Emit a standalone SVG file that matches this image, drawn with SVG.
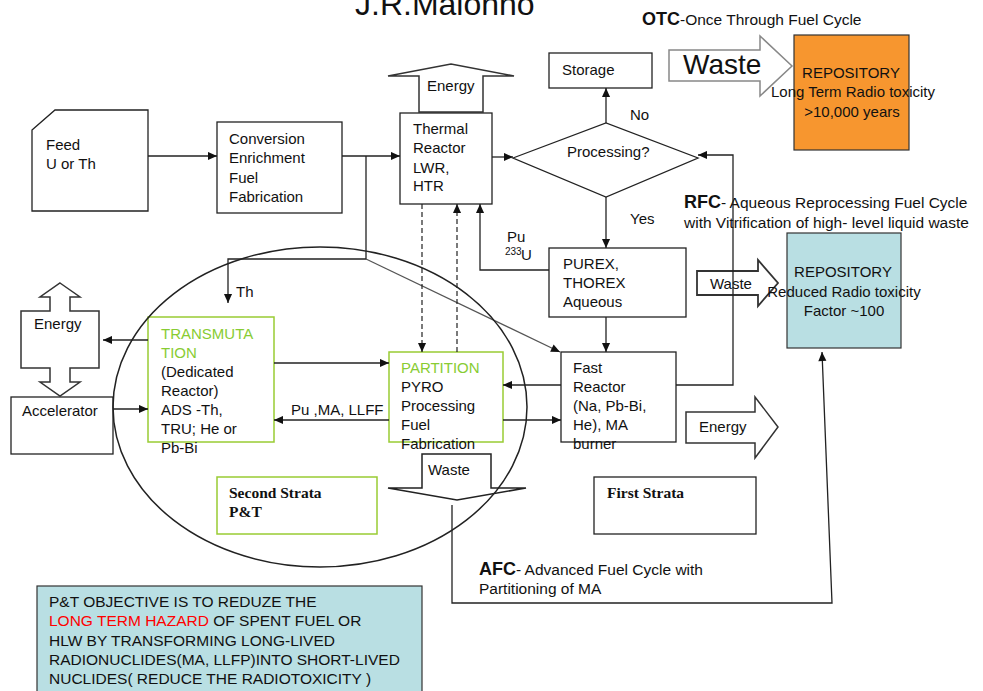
<svg xmlns="http://www.w3.org/2000/svg" width="983" height="691" viewBox="0 0 983 691">
<style>
text{font-family:"Liberation Sans",Arial,sans-serif;font-size:15px;fill:#111}
.box{fill:#fff;stroke:#222;stroke-width:1.3}
.gbox{fill:#fff;stroke:#9c3;stroke-width:1.5}
.blk{fill:#fff;stroke:#333;stroke-width:1.5}
.ln{fill:none;stroke:#222;stroke-width:1.3}
.dash{fill:none;stroke:#222;stroke-width:1.2;stroke-dasharray:5,3}
.g{fill:#8c3}
.b{font-weight:bold;font-size:18px}
.serif{font-family:"Liberation Serif","Times New Roman",serif;font-weight:bold;font-size:15.5px}
.mid{text-anchor:middle}
</style>
<defs>
<marker id="ah" viewBox="0 0 10 10" refX="10" refY="5" markerWidth="10" markerHeight="9" markerUnits="userSpaceOnUse" orient="auto">
<path d="M0,0.5 L10,5 L0,9.5z" fill="#111"/>
</marker>
</defs>
<rect width="983" height="691" fill="#fff"/>

<text x="355" y="15" style="font-size:32px">J.R.Malonno</text>

<g id="feed"><path class="box" d="M32,130 L55,110 H148 V211 H32 Z"/>
<text x="46" y="150">Feed</text><text x="46" y="169">U or Th</text></g>

<g id="conversion"><rect class="box" x="217" y="122" width="125" height="91"/>
<text x="229" y="144">Conversion</text><text x="229" y="163">Enrichment</text><text x="229" y="183">Fuel</text><text x="229" y="202">Fabrication</text></g>

<g id="energy-top"><path class="blk" d="M419,112 V76 H388 L451,64 L514,76 H483 V112 Z"/>
<text x="427" y="91">Energy</text></g>

<g id="thermal"><rect class="box" x="400" y="113" width="92" height="91"/>
<text x="413" y="134">Thermal</text><text x="413" y="153">Reactor</text><text x="413" y="173">LWR,</text><text x="413" y="191">HTR</text></g>

<g id="storage"><rect class="box" x="549" y="53" width="103" height="35"/>
<text x="562" y="75">Storage</text></g>

<g id="processing"><path class="box" d="M513,158 L606,123 L698,158 L606,197 Z"/>
<text x="567" y="157">Processing?</text></g>

<g id="otc-label"><text x="642" y="25"><tspan class="b">OTC</tspan><tspan style="font-size:15.5px">-Once Through Fuel Cycle</tspan></text></g>

<g id="waste-otc"><path d="M669,50 H760 V36 L792,66 L760,96 V81 H669 Z" fill="#fff" stroke="#888" stroke-width="1.5"/>
<text x="683" y="74" style="font-size:28px">Waste</text></g>

<g id="repository-otc"><rect x="794" y="35" width="115" height="115" fill="#f7962f" stroke="#333" stroke-width="1.2"/>
<text class="mid" x="851" y="78">REPOSITORY</text><text class="mid" x="853" y="97">Long Term Radio toxicity</text><text class="mid" x="852" y="117">&gt;10,000 years</text></g>

<g id="rfc-label"><text x="684" y="208"><tspan class="b">RFC</tspan><tspan style="font-size:15.5px">- Aqueous Reprocessing Fuel  Cycle</tspan></text>
<text x="684" y="228" style="font-size:15.5px">with Vitrification of high- level liquid waste</text></g>

<g id="purex"><rect class="box" x="549" y="248" width="137" height="69"/>
<text x="563" y="269">PUREX,</text><text x="563" y="288">THOREX</text><text x="563" y="307">Aqueous</text></g>

<g id="waste-rfc"><path d="M697,271 H758 V260 L778,283 L758,306 V295 H697 Z" fill="#fff" stroke="#333" stroke-width="1.8"/>
<text x="710" y="289">Waste</text></g>

<g id="repository-rfc"><rect x="787" y="233" width="114" height="115" fill="#b9dfe3" stroke="#333" stroke-width="1.2"/>
<text class="mid" x="843" y="277">REPOSITORY</text><text class="mid" x="844" y="297">Reduced Radio toxicity</text><text class="mid" x="844" y="316">Factor ~100</text></g>

<g id="fast"><rect class="box" x="561" y="352" width="115" height="90"/>
<text x="573" y="373">Fast</text><text x="573" y="392">Reactor</text><text x="573" y="411">(Na, Pb-Bi,</text><text x="573" y="430">He), MA</text><text x="573" y="449">burner</text></g>

<g id="energy-fast"><path class="blk" d="M686,412 H755 V397 L778,427 L755,458 V443 H686 Z"/>
<text x="699" y="432">Energy</text></g>

<g id="energy-left"><path class="blk" d="M60,283 L80,297 H70 V311 H99 V368 H70 V382 H80 L60,396 L40,382 H50 V368 H21 V311 H50 V297 H40 Z"/>
<text x="34" y="329">Energy</text></g>

<g id="accelerator"><rect class="box" x="11" y="397" width="102" height="57"/>
<text x="22" y="416">Accelerator</text></g>

<g id="transmutation"><rect class="gbox" x="148" y="317" width="126" height="125"/>
<text x="161" y="339" class="g">TRANSMUTA</text><text x="161" y="358" class="g">TION</text><text x="161" y="377">(Dedicated</text><text x="161" y="396">Reactor)</text><text x="161" y="415">ADS -Th,</text><text x="161" y="434">TRU; He or</text><text x="161" y="453">Pb-Bi</text></g>

<g id="partition"><rect class="gbox" x="389" y="352" width="114" height="90"/>
<text x="401" y="373" class="g">PARTITION</text><text x="401" y="392">PYRO</text><text x="401" y="411">Processing</text><text x="401" y="430">Fuel</text><text x="401" y="449">Fabrication</text></g>

<g id="waste-partition"><path d="M422,454 H491 V488 H526 L457,500 L388,488 H422 Z" fill="#fff" stroke="#222" stroke-width="1.5"/>
<text x="428" y="475">Waste</text></g>

<g id="second-strata"><rect class="gbox" x="217" y="477" width="160" height="57"/>
<text class="serif" x="229" y="498">Second Strata</text><text class="serif" x="229" y="517">P&amp;T</text></g>

<g id="first-strata"><rect class="box" x="594" y="477" width="162" height="57"/>
<text class="serif" x="607" y="498">First Strata</text></g>

<g id="afc-label"><text x="479" y="575"><tspan class="b">AFC</tspan><tspan style="font-size:15.5px">- Advanced Fuel Cycle with</tspan></text>
<text x="479" y="594" style="font-size:15.5px">Partitioning of MA</text></g>

<g id="objective"><rect x="37" y="586" width="385" height="110" fill="#b9dfe3" stroke="#333" stroke-width="1.2"/>
<text x="49" y="607" style="font-size:15.5px">P&amp;T OBJECTIVE IS TO REDUZE THE</text>
<text x="49" y="626" style="font-size:15.5px"><tspan fill="#f00">LONG TERM HAZARD</tspan> OF SPENT FUEL OR</text>
<text x="49" y="646" style="font-size:15.5px">HLW BY TRANSFORMING LONG-LIVED</text>
<text x="49" y="665" style="font-size:15.5px">RADIONUCLIDES(MA, LLFP)INTO SHORT-LIVED</text>
<text x="49" y="684" style="font-size:15.5px">NUCLIDES( REDUCE THE RADIOTOXICITY )</text></g>

<g id="connectors">
<line class="ln" x1="148" y1="156" x2="217" y2="156" marker-end="url(#ah)"/>
<line class="ln" x1="342" y1="156" x2="400" y2="156" marker-end="url(#ah)"/>
<line class="ln" x1="492" y1="157" x2="513" y2="157" marker-end="url(#ah)"/>
<line class="ln" x1="606" y1="123" x2="606" y2="88" marker-end="url(#ah)"/>
<line class="ln" x1="606" y1="197" x2="606" y2="248" marker-end="url(#ah)"/>
<line class="ln" x1="606" y1="317" x2="606" y2="352" marker-end="url(#ah)"/>
<polyline class="ln" points="676,385 733,385 733,155 698,155" marker-end="url(#ah)"/>
<polyline class="ln" points="366,156 366,259 228,259 228,303" marker-end="url(#ah)"/>
<line x1="366" y1="259" x2="560" y2="352" stroke="#555" stroke-width="1.3" marker-end="url(#ah)"/>
<line class="dash" x1="422" y1="204" x2="422" y2="352" marker-end="url(#ah)"/>
<line class="dash" x1="457" y1="352" x2="457" y2="204" marker-end="url(#ah)"/>
<polyline class="ln" points="549,270 480,270 480,204" marker-end="url(#ah)"/>
<line class="ln" x1="148" y1="340" x2="103" y2="340" marker-end="url(#ah)"/>
<line class="ln" x1="113" y1="409" x2="148" y2="409" marker-end="url(#ah)"/>
<line class="ln" x1="274" y1="363" x2="389" y2="363" marker-end="url(#ah)"/>
<line class="ln" x1="389" y1="420" x2="274" y2="420" marker-end="url(#ah)"/>
<line class="ln" x1="561" y1="385" x2="503" y2="385" marker-end="url(#ah)"/>
<line class="ln" x1="503" y1="420" x2="561" y2="420" marker-end="url(#ah)"/>
<polyline class="ln" points="452,505 452,603 832,603 822,352" marker-end="url(#ah)"/>
<text x="507" y="242">Pu</text>
<text x="505" y="255" style="font-size:10px">233</text>
<text x="521" y="260">U</text>
<text x="630" y="120">No</text>
<text x="630" y="224">Yes</text>
<text x="236" y="297">Th</text>
<text x="291" y="415">Pu ,MA, LLFF</text>
</g>

<g id="p-and-t-region"><ellipse cx="320" cy="407" rx="207" ry="160" fill="none" stroke="#222" stroke-width="1.5"/></g>
</svg>
